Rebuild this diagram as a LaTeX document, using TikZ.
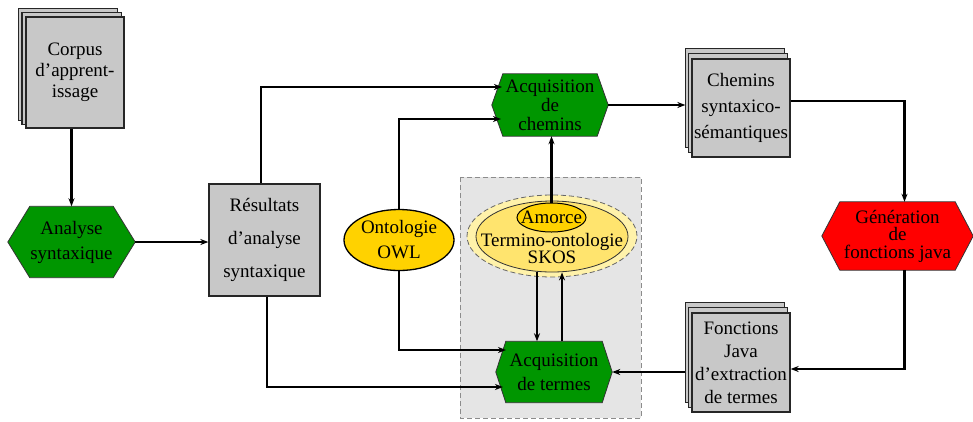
\documentclass[tikz,border=0pt]{standalone}
\usepackage{fontspec}
\setmainfont{Liberation Serif}
\usetikzlibrary{calc,arrows.meta,shapes.geometric}
\pgfdeclarelayer{bg}
\pgfsetlayers{bg,main}
\definecolor{boxgray}{RGB}{200,200,200}
\definecolor{hgreen}{RGB}{0,150,0}
\definecolor{gold}{RGB}{255,210,0}
\definecolor{ltyellow}{RGB}{255,242,170}
\definecolor{midyellow}{RGB}{255,228,110}
\definecolor{bggray}{RGB}{229,229,229}
\newcommand\fsz[1]{\fontsize{19}{#1}\selectfont}
\newcommand\hexdraw[3]{\begin{pgfonlayer}{bg}\draw[hexline,fill=#3] (#1.west) -- ($(#1.north west)+(#2,0)$) -- ($(#1.north east)+(-#2,0)$) -- (#1.east) -- ($(#1.south east)+(-#2,0)$) -- ($(#1.south west)+(#2,0)$) -- cycle;\end{pgfonlayer}}
\newcommand\stackdraw[3]{\begin{pgfonlayer}{bg}
\draw[boxline] ($(#1.south west)+(-2*#2,-2*#3)$) rectangle ($(#1.north east)+(-2*#2,-2*#3)$);
\draw[boxline] ($(#1.south west)+(-#2,-#3)$) rectangle ($(#1.north east)+(-#2,-#3)$);
\end{pgfonlayer}}
\begin{document}
\begin{tikzpicture}[x=1pt,y=-1pt,
  every node/.style={font=\fsz{22}},
  boxline/.style={draw=black!85, fill=boxgray, line width=1.3pt},
  box/.style={boxline, inner sep=0pt, align=center},
  hexn/.style={inner sep=0pt, align=center},
  hexline/.style={draw=black!80, line width=0.8pt},
  arr/.style={line width=2.3pt, -{Stealth[length=8pt,width=6pt,inset=2.5pt]}}]
\useasboundingbox (0,0) rectangle (973,421);
% grey area
\begin{pgfonlayer}{bg}
\draw[draw=black!45, dash pattern=on 5pt off 3pt, fill=bggray, line width=1pt] (460,177) rectangle (641,418);
\end{pgfonlayer}
% boxes
\node[box, minimum width=98, minimum height=111, font=\fsz{21}] (corpus) at (75,72.5) {Corpus\\d’apprent-\\issage};
\stackdraw{corpus}{3.5}{4}
\node[box, minimum width=111, minimum height=112, font=\fsz{33}] (res) at (264.5,240) {Résultats\\d’analyse\\syntaxique};
\node[box, minimum width=98, minimum height=98, font=\fsz{26}] (ch) at (741,108) {Chemins\\syntaxico-\\sémantiques};
\stackdraw{ch}{3}{5}
\node[box, minimum width=98, minimum height=99, font=\fsz{23}] (fonc) at (741,362.5) {Fonctions\\Java\\d’extraction\\de termes};
\stackdraw{fonc}{3}{5}
% hexagons
\node[hexn, minimum width=127, minimum height=71, font=\fsz{25}] (an) at (71.5,242) {Analyse\\syntaxique};
\hexdraw{an}{22}{hgreen}
\node[hexn, minimum width=116, minimum height=62, font=\fsz{19}] (ac) at (550,105) {Acquisition\\de\\chemins};
\hexdraw{ac}{11}{hgreen}
\node[hexn, minimum width=116, minimum height=61, font=\fsz{24}] (at) at (554,372) {Acquisition\\de termes};
\hexdraw{at}{10}{hgreen}
\node[hexn, minimum width=151, minimum height=68, font=\fsz{17.5}] (gen) at (897.5,236) {Génération\\de\\fonctions java};
\hexdraw{gen}{18}{red}
% ellipses
\node[ellipse, draw, line width=1.3pt, fill=gold, inner sep=0pt, minimum width=110, minimum height=61,
  label={[align=center, font=\fsz{25}]center:Ontologie\\OWL}] (owl) at (399,240) {};
\node[ellipse, draw=black!60, dash pattern=on 5pt off 3pt, line width=0.8pt, fill=ltyellow, inner sep=0pt,
  minimum width=170, minimum height=82] (skosout) at (552,236) {};
\node[ellipse, draw=black!80, line width=0.8pt, fill=midyellow, inner sep=0pt,
  minimum width=152, minimum height=71] (skos) at (552,236.5) {};
\node[align=center, font=\fsz{16}, inner sep=0pt] (skostext) at (552,248.5) {Termino-ontologie\\SKOS};
\node[ellipse, draw, line width=1pt, fill=gold, inner sep=0pt, minimum width=69, minimum height=29,
  label={center:Amorce}] (amorce) at (551.5,217.5) {};
% connectors
\coordinate (acin1) at (502,87);
\coordinate (acin2) at (501,119);
\coordinate (atin1) at (506,350);
\coordinate (atin2) at (503,387);
\coordinate (p1) at ($(at.north)+(-17,0)$);
\coordinate (p2) at ($(at.north)+(8,0)$);
\draw[arr] (corpus.south -| an.north) -- (an.north);
\draw[arr] (an.east) -- (an.east -| res.west);
\draw[arr] ($(res.north)+(-3.5,0)$) |- (acin1);
\draw[arr] (owl.north) |- (acin2);
\draw[arr] (owl.south) |- (atin1);
\draw[arr] ($(res.south)+(2.5,0)$) |- (atin2);
\draw[arr] (amorce.north) -- (amorce.north |- ac.south);
\draw[arr] (p1 |- skos.south) -- (p1);
\draw[arr] (p2) -- (p2 |- skos.south);
\draw[arr] (ac.east) -- ($(ac.east -| ch.west)+(-6,0)$);
\draw[arr] ($(ch.east)+(0,-7)$) -| ($(gen.north)+(7,0)$);
\draw[arr] ($(gen.south)+(7,0)$) |- ($(fonc.east)+(0,6.5)$);
\draw[arr] ($(at.east -| fonc.west)+(-6,0)$) -- (at.east);
\end{tikzpicture}
\end{document}
